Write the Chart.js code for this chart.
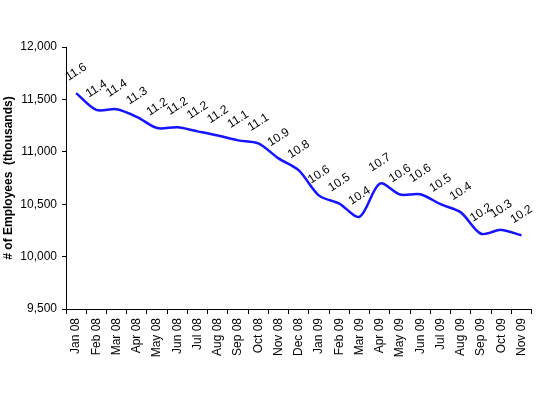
<!DOCTYPE html>
<html>
<head>
<meta charset="utf-8">
<script src="https://cdn.jsdelivr.net/npm/chart.js@4/dist/chart.umd.min.js"></script>
<style>
html,body{margin:0;padding:0;background:#fff;}
#wrap{width:540px;height:395px;position:relative;}
</style>
</head>
<body>
<div id="wrap"><canvas id="c" width="540" height="395"></canvas></div>
<script>
const categories = ["Jan 08","Feb 08","Mar 08","Apr 08","May 08","Jun 08","Jul 08","Aug 08","Sep 08","Oct 08","Nov 08","Dec 08",
  "Jan 09","Feb 09","Mar 09","Apr 09","May 09","Jun 09","Jul 09","Aug 09","Sep 09","Oct 09","Nov 09"];
const employees = [11560,11400,11406,11333,11227,11234,11195,11155,11109,11080,10937,10822,
  10582,10506,10380,10697,10592,10595,10500,10422,10218,10255,10203];
const yTicks = [9500,10000,10500,11000,11500,12000];

const labelPlugin = {
  id: 'valueLabels',
  afterDatasetsDraw(chart) {
    const ctx = chart.ctx;
    const meta = chart.getDatasetMeta(0);
    ctx.save();
    ctx.font = '12px "Liberation Sans", Arial, sans-serif';
    ctx.fillStyle = '#000';
    ctx.textAlign = 'center';
    ctx.textBaseline = 'middle';
    meta.data.forEach((pt, i) => {
      const v = employees[i];
      const txt = (Math.round(v / 100) / 10).toFixed(1);
      ctx.save();
      ctx.translate(pt.x, pt.y - 21);
      ctx.rotate(-33 * Math.PI / 180);
      ctx.fillText(txt, 0, 0);
      ctx.restore();
    });
    ctx.restore();
  }
};

new Chart(document.getElementById('c'), {
  type: 'line',
  data: {
    labels: categories,
    datasets: [{
      data: employees,
      borderColor: '#1414ff',
      borderWidth: 2.5,
      pointRadius: 0,
      fill: false,
      tension: 0.3
    }]
  },
  options: {
    responsive: false,
    animation: false,
    layout: { padding: { top: 47, right: 4, left: 0, bottom: 0 } },
    plugins: { legend: { display: false }, tooltip: { enabled: false } },
    scales: {
      x: {
        offset: true,
        afterFit(s) { s.height = 86; },
        grid: { offset: true, drawOnChartArea: false, drawTicks: true, tickLength: 5, color: '#000', lineWidth: 1 },
        border: { display: true, color: '#000', width: 1 },
        ticks: {
          autoSkip: false, minRotation: 90, maxRotation: 90, padding: 4, color: '#000',
          font: { family: '"Liberation Sans", Arial, sans-serif', size: 12 }
        }
      },
      y: {
        min: 9500, max: 12000,
        afterFit(s) { s.width = 66; },
        afterBuildTicks(s) { s.ticks = yTicks.map(v => ({ value: v })); },
        grid: { drawOnChartArea: false, drawTicks: true, tickLength: 4, color: '#000', lineWidth: 1 },
        border: { display: true, color: '#000', width: 1 },
        ticks: {
          padding: 5, color: '#000',
          font: { family: '"Liberation Sans", Arial, sans-serif', size: 12 },
          callback: v => v.toLocaleString('en-US')
        },
        title: {
          display: true, text: '# of Employees  (thousands)', color: '#000',
          padding: { top: 1, bottom: 0 },
          font: { family: '"Liberation Sans", Arial, sans-serif', size: 12, weight: 'bold' }
        }
      }
    }
  },
  plugins: [labelPlugin]
});
</script>
</body>
</html>
